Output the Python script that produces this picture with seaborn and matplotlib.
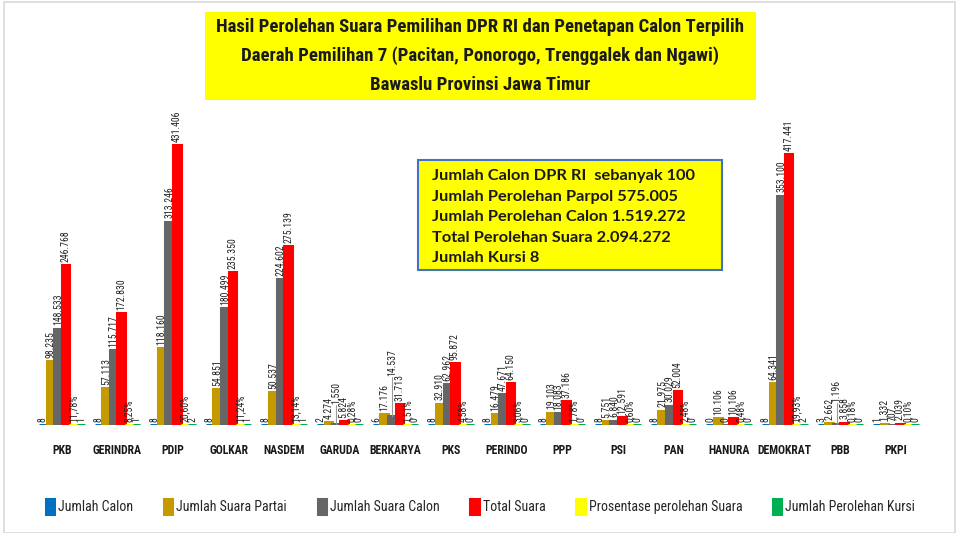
import matplotlib
matplotlib.use('Agg')
import matplotlib.pyplot as plt
from matplotlib.patches import Rectangle
import seaborn as sns
import pandas as pd

parties = ['PKB', 'GERINDRA', 'PDIP', 'GOLKAR', 'NASDEM', 'GARUDA', 'BERKARYA', 'PKS',
           'PERINDO', 'PPP', 'PSI', 'PAN', 'HANURA', 'DEMOKRAT', 'PBB', 'PKPI']
jumlah_calon = [8, 8, 8, 8, 8, 2, 6, 8, 8, 8, 8, 8, 0, 8, 3, 1]
suara_partai = [98235, 57113, 118160, 54851, 50537, 4274, 17176, 32910,
                16479, 19103, 5751, 21975, 10106, 64341, 2662, 1332]
suara_calon = [148533, 115717, 313246, 180499, 224602, 1550, 14537, 62962,
               47671, 18083, 6840, 30029, 0, 353100, 1196, 707]
total_suara = [246768, 172830, 431406, 235350, 275139, 5824, 31713, 95872,
               64150, 37186, 12591, 52004, 10106, 417441, 3858, 2039]
prosentase = [11.78, 8.25, 20.60, 11.24, 13.14, 0.28, 1.51, 4.58,
              3.06, 1.78, 0.60, 2.48, 0.48, 19.93, 0.18, 0.10]
kursi = [1, 1, 2, 1, 1, 0, 0, 0, 0, 0, 0, 0, 0, 2, 0, 0]

series_names = ['Jumlah Calon', 'Jumlah Suara Partai', 'Jumlah Suara Calon', 'Total Suara',
                'Prosentase perolehan Suara', 'Jumlah Perolehan Kursi']
colors = ['#0070C0', '#C49A00', '#666666', '#FF0000', '#FFFF00', '#00B050']

info_lines = ['Jumlah Calon DPR RI  sebanyak 100',
              'Jumlah Perolehan Parpol 575.005',
              'Jumlah Perolehan Calon 1.519.272',
              'Total Perolehan Suara 2.094.272',
              'Jumlah Kursi 8']
title_lines = ['Hasil Perolehan Suara Pemilihan DPR RI dan Penetapan Calon Terpilih',
               'Daerah Pemilihan 7 (Pacitan, Ponorogo, Trenggalek dan Ngawi)',
               'Bawaslu Provinsi Jawa Timur']

all_series = [jumlah_calon, suara_partai, suara_calon, total_suara, prosentase, kursi]
rows = []
for name, vals in zip(series_names, all_series):
    for p, v in zip(parties, vals):
        rows.append({'Partai': p, 'Seri': name, 'Nilai': v})
df = pd.DataFrame(rows)

sns.set_style('white')
narrow = ['Roboto Condensed', 'Roboto', 'DejaVu Sans']
plt.rcParams['font.family'] = narrow

fig = plt.figure(figsize=(9.61, 5.33), dpi=100)
ax = fig.add_axes([0.0354, 0.2026, 0.926, 0.61])

sns.barplot(data=df, x='Partai', y='Nilai', hue='Seri', order=parties,
            hue_order=series_names, palette=colors, width=0.82, ax=ax,
            saturation=1, errorbar=None, legend=True)

for p in ax.patches:
    p.set_edgecolor(p.get_facecolor())
    p.set_linewidth(2.2)

ax.set_xlim(-0.5, 15.5)
ax.set_ylim(0, 500739)
ax.set_xlabel('')
ax.set_ylabel('')
ax.set_yticks([])
sns.despine(ax=ax, left=True, bottom=True)
ax.tick_params(axis='x', length=0, pad=14)
for lab in ax.get_xticklabels():
    lab.set_fontsize(8.5)
    lab.set_fontweight('bold')
    lab.set_color('#1a1a1a')


def fmt(v, si):
    if si == 4:
        return f'{v:.2f}%'.replace('.', ',')
    return f'{v:,}'.replace(',', '.')


# labels lifted with a leader line (party index, series index): extra offset in data units
lifted = {(5, 2): 30000, (6, 2): 60000, (14, 2): 32000}

for si, cont in enumerate(ax.containers):
    for pi, bar in enumerate(cont):
        v = all_series[si][pi]
        x = bar.get_x() + bar.get_width() / 2
        h = bar.get_height()
        y = h + 5000
        if (pi, si) in lifted:
            y2 = h + lifted[(pi, si)]
            ax.plot([x, x], [h, y2], color='#999999', lw=0.8)
            y = y2 + 1500
        ax.text(x, y, fmt(v, si), rotation=90, ha='center', va='bottom',
                fontsize=7, color='#222222', family=narrow)

handles, labels = ax.get_legend_handles_labels()
ax.get_legend().remove()
fig.legend(handles, labels, loc='center', bbox_to_anchor=(0.5, 0.049), ncol=6,
           frameon=False, handlelength=0.6, handleheight=1.2, handletextpad=0.3,
           columnspacing=2.2, prop={'family': narrow, 'size': 10})

# outer frame
fig.patches.append(Rectangle((4 / 961, 0), 951 / 961, 531 / 533, transform=fig.transFigure,
                             fill=False, edgecolor='#D9D9D9', lw=1.2))

# title box
fig.patches.append(Rectangle((205 / 961, 1 - 100 / 533), 551 / 961, 88 / 533,
                             transform=fig.transFigure, facecolor='#FFFF00',
                             edgecolor='none'))
for i, line in enumerate(title_lines):
    fig.text(480 / 961, 1 - (27 + 29 * i) / 533, line, ha='center', va='center',
             fontsize=13.5, fontweight='bold', color='#1a1a1a', family=narrow)

# info box
fig.patches.append(Rectangle((418 / 961, 1 - 270 / 533), 304 / 961, 110 / 533,
                             transform=fig.transFigure, facecolor='#FFFF00',
                             edgecolor='#4472C4', lw=1.5))
for i, line in enumerate(info_lines):
    fig.text(432 / 961, 1 - (176 + 20.5 * i) / 533, line, ha='left', va='center',
             fontsize=11.8, fontweight='bold', color='#1a1a1a', family=['Lato', 'DejaVu Sans'])

fig.savefig('out.png', dpi=100)
